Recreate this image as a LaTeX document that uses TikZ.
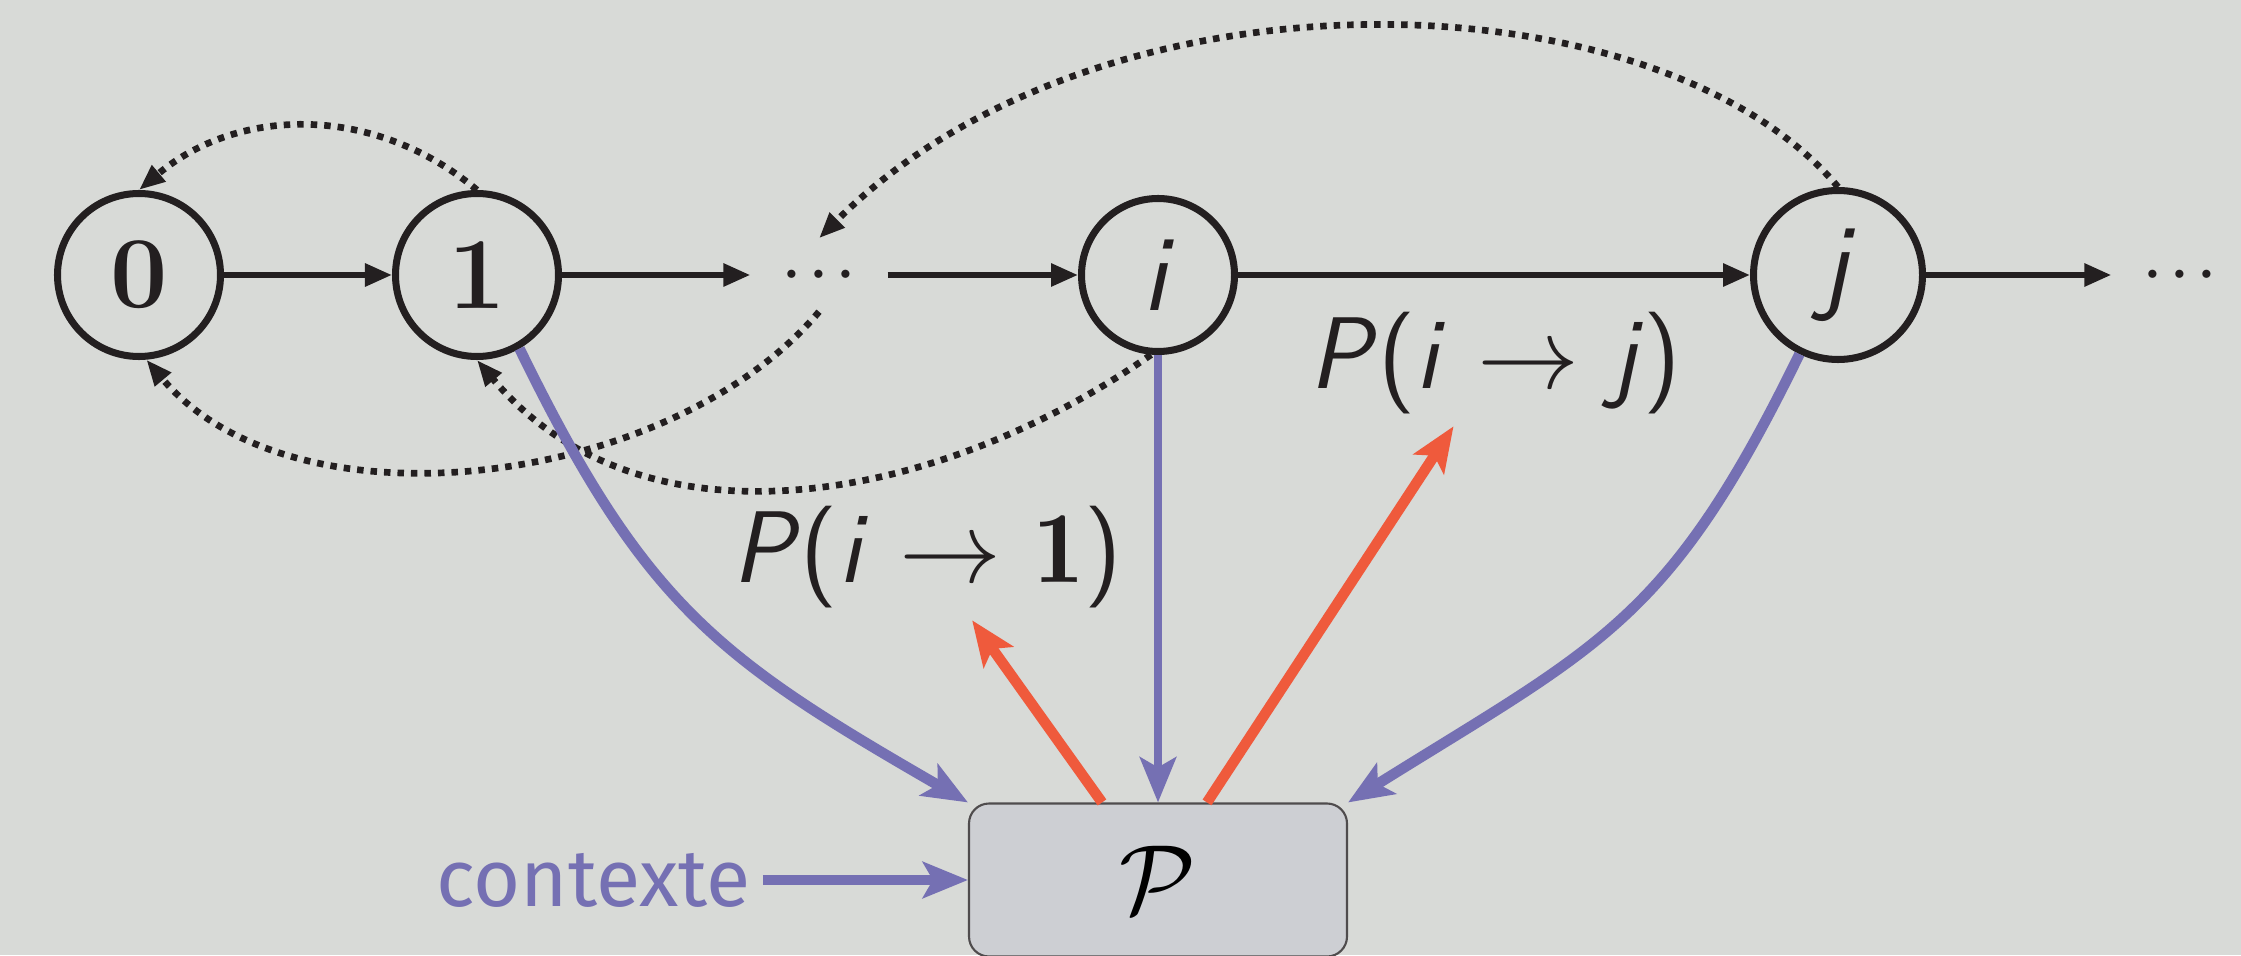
\documentclass[tikz,border=0pt]{standalone}
\usepackage{fix-cm}
\usepackage{fontspec}
\newfontfamily\ctxfont{Fira Sans}
\usetikzlibrary{arrows.meta, positioning}
\definecolor{bgcol}{RGB}{216,218,215}
\definecolor{boxfill}{RGB}{205,207,211}
\definecolor{ink}{RGB}{35,31,32}
\definecolor{ctxblue}{RGB}{117,112,179}
\definecolor{hotred}{RGB}{239,90,60}

\begin{document}
\begin{tikzpicture}[
    state/.style={circle, draw=ink, line width=2pt, minimum size=1.63cm, inner sep=0pt, text=ink, font=\fontsize{29}{30}\selectfont},
    ellip/.style={inner sep=0pt, minimum width=1.36cm, minimum height=0.72cm, text=ink, font=\fontsize{15}{18}\selectfont\boldmath},
    plab/.style={text=ink, font=\fontsize{29}{32}\selectfont\sffamily},
    pbox/.style={rectangle, rounded corners=0.2cm, draw=ink!80, line width=0.6pt, fill=boxfill, minimum width=3.78cm, minimum height=1.53cm, font=\fontsize{28}{30}\selectfont},
    fwd/.style={-{Triangle[length=0.27cm, width=0.22cm]}, line width=1.7pt, ink},
    back/.style={-{Triangle[length=0.26cm, width=0.2cm]}, line width=1.9pt, ink, dash pattern=on 0.065cm off 0.07cm},
    feed/.style={-{Stealth[length=0.45cm, width=0.36cm, inset=0.1cm]}, line width=3pt, ctxblue},
    ask/.style={-{Stealth[length=0.45cm, width=0.36cm, inset=0.1cm]}, line width=3pt, hotred}
]
\path[use as bounding box, fill=bgcol] (0,0) rectangle (22.41,9.55);

\node[state] (n0) at (1.39,6.80) {\textbf{0}};
\node[state] (n1) at (4.77,6.80) {\textbf{1}};
\node[ellip] (dots) at (8.19,6.80) {$\cdots$};
\node[state, minimum size=1.53cm, font=\fontsize{31}{32}\selectfont] (ni) at (11.58,6.80) {\textsf{\textit{i}}};
\node[state, minimum size=1.69cm, font=\fontsize{31}{32}\selectfont] (nj) at (18.38,6.80) {\textsf{\textit{j}}};
\node[ellip] (more) at (21.80,6.80) {$\cdots$};
\node[pbox] (box) at (11.58,0.75) {$\mathcal{P}$};
\node[left=2.05cm of box, text=ctxblue, font=\fontsize{23}{26}\selectfont\ctxfont] (ctx) {contexte};
\node[plab] (lab1) at (9.27,3.98) {\textit{P}(\textit{i}\ $\rightarrow$\ $\mathbf{1}$)};
\node[plab] (lab2) at (14.95,5.92) {\textit{P}(\textit{i}\ $\rightarrow$\ \textit{j})};

\draw[fwd] (n0) -- (n1);
\draw[fwd] (n1) -- (dots);
\draw[fwd] (dots) -- (ni);
\draw[fwd] (ni) -- (nj);
\draw[fwd] (nj) -- (more);

\draw[back] (n1.north) to[out=140, in=40, looseness=1.0] (n0.north);
\draw[back] (nj.north) to[out=130, in=45, out looseness=0.7, in looseness=1.0] (dots.north);
\draw[back] (dots.south) to[out=-130, in=-50, looseness=0.87] (n0.-85);
\draw[back] (ni.-95) to[out=-145, in=-50, looseness=0.98] (n1.south);

\draw[feed] (n1.-60) to[out=-64, in=150, looseness=1.15] (box.north west);
\draw[feed, line width=2.5pt] (ni) -- (box);
\draw[feed] (nj.-116) to[out=-116, in=32, looseness=1.2] (box.north east);
\draw[feed] (ctx) -- (box);

\draw[ask] ([xshift=-0.56cm]box.north) -- (lab1);
\draw[ask] ([xshift=0.49cm]box.north) -- (lab2);
\end{tikzpicture}
\end{document}
